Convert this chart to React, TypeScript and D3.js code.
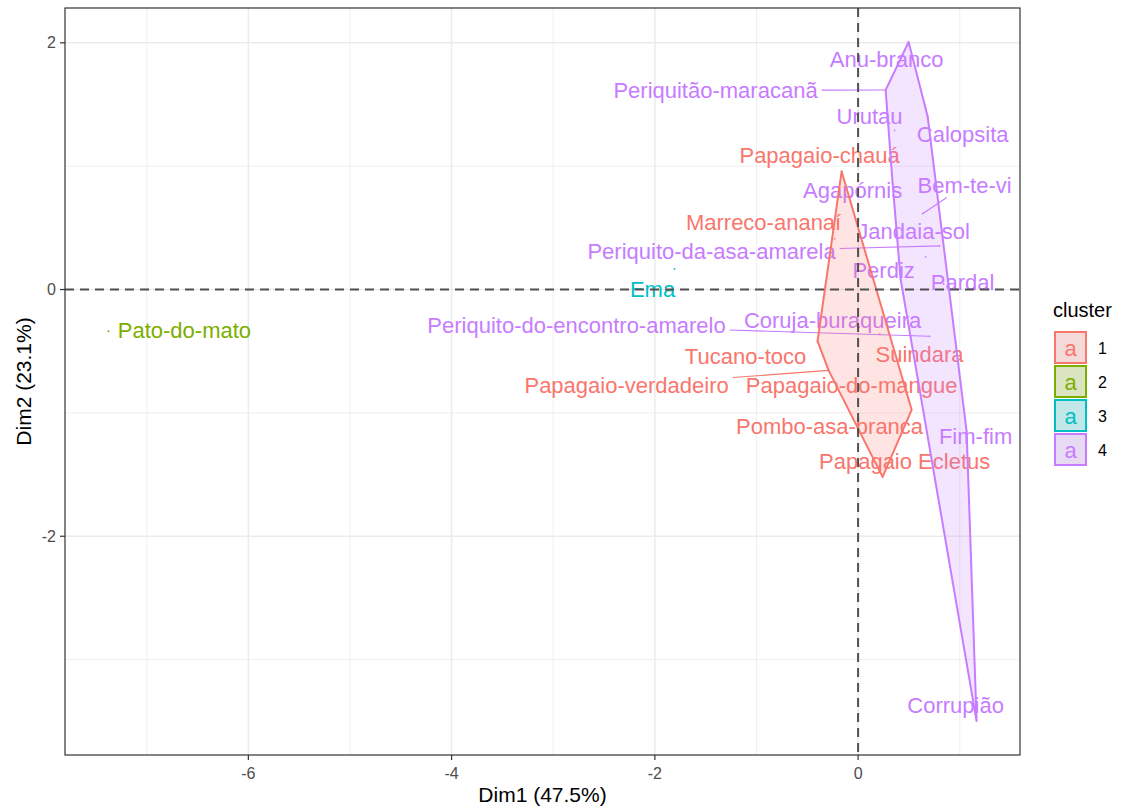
import React, { useEffect } from "react";
import * as d3 from "d3";

// fviz_cluster style PCA plot
const birds = [
  "Papagaio-chauá", "Marreco-ananaí", "Tucano-toco", "Papagaio-verdadeiro",
  "Papagaio-do-mangue", "Pombo-asa-branca", "Papagaio Ecletus", "Suindara",
  "Pato-do-mato", "Ema",
  "Anu-branco", "Periquitão-maracanã", "Calopsita", "Urutau", "Agapórnis",
  "Bem-te-vi", "Periquito-da-asa-amarela", "Jandaia-sol", "Perdiz", "Pardal",
  "Coruja-buraqueira", "Periquito-do-encontro-amarelo", "Fim-fim", "Corrupião",
];
const cluster = [1, 1, 1, 1, 1, 1, 1, 1, 2, 3, 4, 4, 4, 4, 4, 4, 4, 4, 4, 4, 4, 4, 4, 4];
const dim1 = [
  -0.162, -0.231, -0.399, -0.29, 0.094, 0.527, 0.241, 0.212,
  -7.377, -1.806,
  0.497, 0.271, 0.684, 0.359, 0.34, 0.635, 0.802, 0.664, 0.418, 0.842,
  0.517, 0.704, 1.068, 1.166,
];
const dim2 = [
  0.957, 0.411, -0.419, -0.655, -0.81, -0.975, -1.519, -0.362,
  -0.338, 0.167,
  2.007, 1.617, 1.405, 1.291, 0.859, 0.615, 0.354, 0.265, 0.086, 0.045,
  -0.387, -0.379, -1.152, -3.498,
];
// where the repelled labels ended up (label centres, same units)
const labelDim1 = [
  -0.379, -0.93, -1.107, -2.278, -0.064, -0.281, 0.458, 0.605,
  -6.629, -2.023,
  0.281, -1.403, 1.029, 0.113, -0.054, 1.048, -1.442, 0.546, 0.251, 1.029,
  -0.251, -2.771, 1.156, 0.96,
];
const labelDim2 = [
  1.087, 0.542, -0.542, -0.778, -0.778, -1.112, -1.396, -0.525,
  -0.33, 0.004,
  1.861, 1.616, 1.258, 1.405, 0.802, 0.843, 0.306, 0.468, 0.151, 0.061,
  -0.248, -0.289, -1.193, -3.375,
];
const clusterIds = [1, 2, 3, 4];
const colors = ["#F8766D", "#7CAE00", "#00BFC4", "#C77CFF"];
const xTicks = [-6, -4, -2, 0];
const yTicks = [-2, 0, 2];

const W = 1122;
const H = 806;
const margin = { top: 8, right: 102, bottom: 51, left: 65 };
const FONT = "Arial, 'Liberation Sans', sans-serif";
const labelSize = 22;

export default function App() {
  useEffect(() => {
    document.body.style.margin = "0";
  }, []);

  const pad = (ext: number[]) => {
    const r = ext[1] - ext[0];
    return [ext[0] - r * 0.05, ext[1] + r * 0.05];
  };
  const x = d3.scaleLinear().domain(pad(d3.extent(dim1) as number[])).range([margin.left, W - margin.right]);
  const y = d3.scaleLinear().domain(pad(d3.extent(dim2) as number[])).range([H - margin.bottom, margin.top]);
  const color = d3.scaleOrdinal<number, string>().domain(clusterIds).range(colors);

  const [x0, x1] = x.range();
  const [y0, y1] = y.range();
  const minorX = d3.range(Math.ceil(x.domain()[0]), Math.floor(x.domain()[1]) + 1).filter((v) => v % 2 !== 0);
  const minorY = d3.range(Math.ceil(y.domain()[0]), Math.floor(y.domain()[1]) + 1).filter((v) => v % 2 !== 0);

  const ctx = document.createElement("canvas").getContext("2d")!;
  ctx.font = `${labelSize}px ${FONT}`;

  const pts = birds.map((name, i) => ({
    name,
    cl: cluster[i],
    px: x(dim1[i]),
    py: y(dim2[i]),
    lx: x(labelDim1[i]),
    ly: y(labelDim2[i]),
    w: ctx.measureText(name).width,
  }));

  // segment from point towards label centre, cut at the label box
  const segs = pts
    .map((p) => {
      const hw = p.w / 2 + 4;
      const hh = labelSize / 2 + 1;
      const dx = p.lx - p.px;
      const dy = p.ly - p.py;
      if (Math.abs(dx) <= hw && Math.abs(dy) <= hh) return null;
      const tt = Math.max(
        Math.abs(dx) > 1e-6 ? 1 - hw / Math.abs(dx) : -Infinity,
        Math.abs(dy) > 1e-6 ? 1 - hh / Math.abs(dy) : -Infinity
      );
      const ex = p.px + dx * tt;
      const ey = p.py + dy * tt;
      const len = Math.hypot(ex - p.px, ey - p.py);
      if (len < 27) return null;
      return { x1: p.px, y1: p.py, x2: ex, y2: ey, cl: p.cl };
    })
    .filter(Boolean) as { x1: number; y1: number; x2: number; y2: number; cl: number }[];

  const hulls = clusterIds
    .map((c) => {
      const members = pts.filter((p) => p.cl === c).map((p) => [p.px, p.py] as [number, number]);
      const h = members.length >= 3 ? d3.polygonHull(members) : null;
      return { c, h };
    })
    .filter((d) => d.h);

  const line = d3.line();

  return (
    <svg width={W} height={H} style={{ display: "block", background: "#fff" }} fontFamily={FONT}>
      <defs>
        <clipPath id="panel">
          <rect x={x0} y={y1} width={x1 - x0} height={y0 - y1} />
        </clipPath>
      </defs>
      {/* grid */}
      <g>
        {minorX.map((v) => (
          <line key={"mx" + v} x1={x(v)} x2={x(v)} y1={y1} y2={y0} stroke="#EBEBEB" strokeWidth={0.8} />
        ))}
        {minorY.map((v) => (
          <line key={"my" + v} x1={x0} x2={x1} y1={y(v)} y2={y(v)} stroke="#EBEBEB" strokeWidth={0.8} />
        ))}
        {xTicks.map((v) => (
          <line key={"gx" + v} x1={x(v)} x2={x(v)} y1={y1} y2={y0} stroke="#EBEBEB" strokeWidth={1.5} />
        ))}
        {yTicks.map((v) => (
          <line key={"gy" + v} x1={x0} x2={x1} y1={y(v)} y2={y(v)} stroke="#EBEBEB" strokeWidth={1.5} />
        ))}
      </g>
      <g clipPath="url(#panel)">
        {pts.map((p) => (
          <circle key={"p" + p.name} cx={p.px} cy={p.py} r={0.9} fill={color(p.cl)} />
        ))}
        {segs.map((s, i) => (
          <line key={"s" + i} x1={s.x1} y1={s.y1} x2={s.x2} y2={s.y2} stroke={color(s.cl)} strokeWidth={1.1} />
        ))}
        {pts.map((p) => (
          <text
            key={"t" + p.name}
            x={p.lx}
            y={p.ly}
            textAnchor="middle"
            dominantBaseline="central"
            fontSize={labelSize}
            fill={color(p.cl)}
          >
            {p.name}
          </text>
        ))}
        {hulls.map(({ c, h }) => (
          <path
            key={"h" + c}
            d={line([...(h as [number, number][]), (h as [number, number][])[0]]) || ""}
            fill={color(c)}
            fillOpacity={0.2}
            stroke={color(c)}
            strokeWidth={2}
            strokeLinejoin="round"
          />
        ))}
        <line x1={x0} x2={x1} y1={y(0)} y2={y(0)} stroke="#505050" strokeWidth={2} strokeDasharray="9,6" />
        <line x1={x(0)} x2={x(0)} y1={y1} y2={y0} stroke="#505050" strokeWidth={2} strokeDasharray="9,6" />
      </g>
      <rect x={x0} y={y1} width={x1 - x0} height={y0 - y1} fill="none" stroke="#333" strokeWidth={1.2} />
      {/* axes */}
      {xTicks.map((v) => (
        <g key={"xt" + v}>
          <line x1={x(v)} x2={x(v)} y1={y0} y2={y0 + 5} stroke="#333" strokeWidth={1.2} />
          <text x={x(v)} y={y0 + 18} textAnchor="middle" dominantBaseline="central" fontSize={16} fill="#4D4D4D">
            {v}
          </text>
        </g>
      ))}
      {yTicks.map((v) => (
        <g key={"yt" + v}>
          <line x1={x0 - 5} x2={x0} y1={y(v)} y2={y(v)} stroke="#333" strokeWidth={1.2} />
          <text x={x0 - 9} y={y(v)} textAnchor="end" dominantBaseline="central" fontSize={16} fill="#4D4D4D">
            {v}
          </text>
        </g>
      ))}
      <text x={(x0 + x1) / 2} y={H - 4} textAnchor="middle" fontSize={21} fill="#000">
        Dim1 (47.5%)
      </text>
      <text
        transform={`translate(31,${(y0 + y1) / 2}) rotate(-90)`}
        textAnchor="middle"
        fontSize={21}
        fill="#000"
      >
        Dim2 (23.1%)
      </text>
      {/* legend */}
      <g transform="translate(1054,0)">
        <text x={-1} y={317} fontSize={20} fill="#000">
          cluster
        </text>
        {clusterIds.map((c, i) => (
          <g key={"lg" + c} transform={`translate(0,${331 + i * 34})`}>
            <rect x={0} y={0} width={33} height={33} fill="#F2F2F2" />
            <rect
              x={1}
              y={1}
              width={31}
              height={31}
              fill={color(c)}
              fillOpacity={0.2}
              stroke={color(c)}
              strokeWidth={2}
            />
            <text x={16.5} y={17} textAnchor="middle" dominantBaseline="central" fontSize={22} fill={color(c)}>
              a
            </text>
            <text x={44} y={17} dominantBaseline="central" fontSize={16} fill="#000">
              {c}
            </text>
          </g>
        ))}
      </g>
    </svg>
  );
}
